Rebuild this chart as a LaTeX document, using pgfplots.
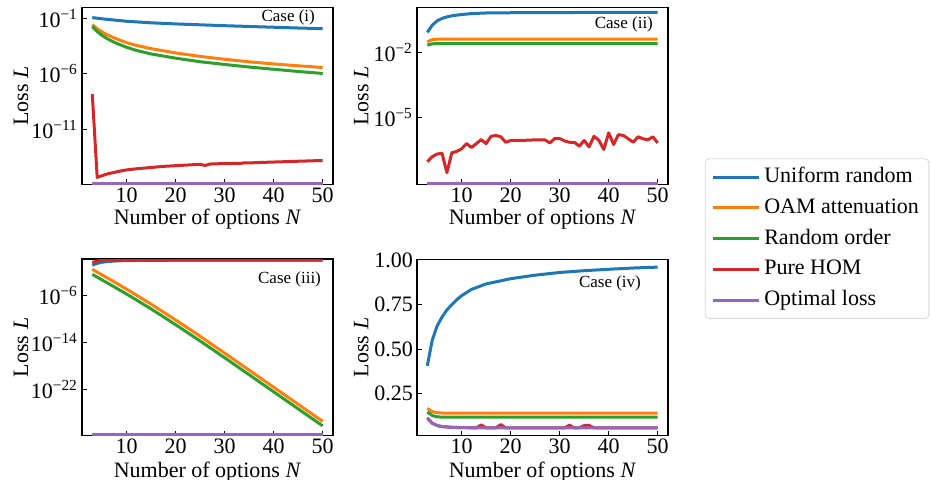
\documentclass[border=0pt]{standalone}
\usepackage{fontspec}
\setmainfont{Liberation Serif}
\usepackage{pgfplots}
\pgfplotsset{compat=1.18}

\definecolor{cblue}{HTML}{1F77B4}
\definecolor{corange}{HTML}{FF7F0E}
\definecolor{cgreen}{HTML}{2CA02C}
\definecolor{cred}{HTML}{D62728}
\definecolor{cpurple}{HTML}{9467BD}

\newcommand{\lbl}{\fontsize{11}{13}\selectfont}
\newcommand{\case}{\fontsize{8.5}{10}\selectfont}

\pgfplotsset{
  panel/.style={
    scale only axis, width=125.5pt, height=88.3pt,
    anchor=south west,
    xmin=0.9, xmax=52.1, xtick={10,20,30,40,50},
    tick align=inside, tick pos=left,
    major tick length=2.5pt,
    yminorticks=false, xminorticks=false,
    tick style={line width=0.5pt, black},
    axis line style={line width=0.6pt},
    tick label style={font=\lbl},
    label style={font=\lbl, inner sep=1pt},
    xlabel={Number of options \textit{N}},
    ylabel={Loss \textit{L}},
    xticklabel style={yshift=-0.5pt, inner ysep=1pt},
    yticklabel style={xshift=1.5pt},
    /pgf/number format/assume math mode=true,
    every axis plot/.append style={line width=1.5pt, line join=round, mark=none},
  },
  toprow/.style={xlabel style={at={(axis description cs:0.5,-0.197)}, anchor=center}},
  botrow/.style={xlabel style={at={(axis description cs:0.5,-0.208)}, anchor=center}},
  leftcol/.style={ylabel style={at={(axis description cs:-0.243,0.5)}, anchor=center}},
  rightcol/.style={ylabel style={at={(axis description cs:-0.222,0.5)}, anchor=center}},
}

\begin{document}
\begin{tikzpicture}
\path[use as bounding box] (0,0) rectangle (465pt,240pt);

% ---- Case (i)
\begin{axis}[panel, toprow, leftcol, at={(41pt,147.85pt)},
  ymode=log, ymin=1.05e-16, ymax=0.9,
  ytick={1e-1,1e-6,1e-11},
  yticklabels={10\textsuperscript{−1},10\textsuperscript{−6},10\textsuperscript{−11}}]
\addplot[cblue] coordinates {(3,1.15e-1) (5,8.91e-2) (7,7.24e-2) (10,5.37e-2) (15,3.89e-2) (20,3.09e-2) (25,2.57e-2) (30,2.14e-2) (35,1.82e-2) (40,1.55e-2) (45,1.32e-2) (50,1.15e-2)};
\addplot[corange] coordinates {(3,2.63e-2) (4,1.12e-2) (5,5.75e-3) (6,3.31e-3) (7,2.09e-3) (8,1.35e-3) (10,6.31e-4) (12,3.55e-4) (15,1.82e-4) (20,7.41e-5) (25,3.63e-5) (30,2.0e-5) (35,1.17e-5) (40,7.59e-6) (45,5.13e-6) (50,3.63e-6)};
\addplot[cgreen] coordinates {(3,1.78e-2) (4,6.31e-3) (5,2.82e-3) (6,1.48e-3) (7,8.71e-4) (8,5.37e-4) (10,2.40e-4) (12,1.26e-4) (15,6.03e-5) (20,2.51e-5) (25,1.20e-5) (30,6.76e-6) (35,3.98e-6) (40,2.51e-6) (45,1.58e-6) (50,1.05e-6)};
\addplot[cred] coordinates {(3,1.41e-8) (4,4.37e-16) (5,6.31e-16) (6,8.91e-16) (7,1.12e-15) (8,1.41e-15) (9,1.74e-15) (10,2.09e-15) (12,2.63e-15) (14,3.16e-15) (16,3.80e-15) (18,4.47e-15) (20,5.01e-15) (22,5.62e-15) (24,6.31e-15) (25,6.61e-15) (26,5.25e-15) (27,7.08e-15) (28,7.24e-15) (30,7.94e-15) (31,7.59e-15) (32,8.32e-15) (33,7.76e-15) (34,9.12e-15) (35,8.91e-15) (38,1.0e-14) (40,1.07e-14) (45,1.26e-14) (50,1.48e-14)};
\addplot[cpurple] coordinates {(3,1.26e-16) (50,1.26e-16)};
\node[anchor=east, font=\case] at (rel axis cs:0.956,0.943) {Case (i)};
\end{axis}

% ---- Case (ii)
\begin{axis}[panel, toprow, rightcol, at={(208.5pt,147.85pt)},
  ymode=log, ymin=9.3e-9, ymax=1.1,
  ytick={1e-2,1e-5},
  yticklabels={10\textsuperscript{−2},10\textsuperscript{−5}},
  legend style={at={(1.147,0.147)}, anchor=north west, draw=black!15,
    rounded corners=2pt, font=\lbl, inner xsep=3pt, inner ysep=2pt,
    row sep=0.85pt,
    nodes={inner sep=2pt, text height=8pt, text depth=2.5pt},
    /tikz/every even column/.append style={column sep=11pt}},
  legend cell align=left,
  legend image code/.code={\draw[#1, line width=1.5pt] (0pt,0pt) -- (23pt,0pt);}]
\addplot[cblue] coordinates {(3,8.13e-2) (4,1.74e-1) (5,2.75e-1) (6,3.55e-1) (7,4.17e-1) (8,4.68e-1) (10,5.37e-1) (12,5.89e-1) (15,6.31e-1) (20,6.46e-1) (30,6.61e-1) (40,6.68e-1) (50,6.76e-1)};
\addlegendentry{Uniform random}
\addplot[corange] coordinates {(3,3.02e-2) (4,3.80e-2) (5,3.98e-2) (50,3.98e-2)};
\addlegendentry{OAM attenuation}
\addplot[cgreen] coordinates {(3,2.14e-2) (4,2.45e-2) (5,2.51e-2) (50,2.51e-2)};
\addlegendentry{Random order}
\addplot[cred] coordinates {(3,1.0e-7) (4,1.70e-7) (5,2.24e-7) (6,2.45e-7) (7,3.16e-8) (8,2.57e-7) (9,2.95e-7) (10,3.89e-7) (11,6.76e-7) (12,4.47e-7) (13,6.76e-7) (14,1.02e-6) (15,6.76e-7) (16,1.45e-6) (17,1.58e-6) (18,1.38e-6) (19,7.76e-7) (20,9.33e-7) (21,9.55e-7) (22,9.55e-7) (23,9.55e-7) (24,9.77e-7) (25,1.0e-6) (26,1.0e-6) (27,1.0e-6) (28,7.24e-7) (29,1.15e-6) (30,1.15e-6) (31,8.91e-7) (32,7.76e-7) (33,7.76e-7) (34,5.13e-7) (35,9.33e-7) (36,4.79e-7) (37,1.45e-6) (38,9.55e-7) (39,3.63e-7) (40,2.09e-6) (41,6.17e-7) (42,1.74e-6) (43,1.58e-6) (44,1.12e-6) (45,7.76e-7) (46,1.38e-6) (47,1.12e-6) (48,1.0e-6) (49,1.38e-6) (50,7.24e-7)};
\addlegendentry{Pure HOM}
\addplot[cpurple] coordinates {(3,1.0e-8) (50,1.0e-8)};
\addlegendentry{Optimal loss}
\node[anchor=east, font=\case] at (rel axis cs:0.968,0.907) {Case (ii)};
\end{axis}

% ---- Case (iii)
\begin{axis}[panel, botrow, leftcol, at={(41pt,22.15pt)},
  ymode=log, ymin=1.32e-30, ymax=1.29,
  ytick={1e-6,1e-14,1e-22},
  yticklabels={10\textsuperscript{−6},10\textsuperscript{−14},10\textsuperscript{−22}}]
\addplot[cblue] coordinates {(3,0.120) (4,0.251) (5,0.380) (6,0.479) (7,0.562) (8,0.631) (10,0.724) (15,0.794) (20,0.832) (50,0.851)};
\addplot[corange] coordinates {(3,2.29e-2) (4,7.76e-3) (5,2.63e-3) (6,8.91e-4) (7,2.95e-4) (8,9.55e-5) (10,1.0e-5) (12,9.77e-7) (15,2.82e-8) (17,2.45e-9) (20,5.89e-11) (22,4.68e-12) (25,1.0e-13) (27,7.24e-15) (30,1.41e-16) (35,1.78e-19) (40,2.24e-22) (45,2.82e-25) (50,3.55e-28)};
\addplot[cgreen] coordinates {(3,3.24e-3) (4,1.10e-3) (5,3.72e-4) (6,1.26e-4) (7,4.17e-5) (8,1.38e-5) (10,1.51e-6) (12,1.48e-7) (15,4.37e-9) (17,3.80e-10) (20,9.33e-12) (22,7.41e-13) (25,1.58e-14) (27,1.17e-15) (30,2.29e-17) (35,2.95e-20) (40,3.72e-23) (45,4.68e-26) (50,6.03e-29)};
\addplot[cred] coordinates {(3,0.347) (4,0.631) (5,0.794) (6,0.851) (50,0.851)};
\addplot[cpurple] coordinates {(3,2.24e-30) (50,2.24e-30)};
\node[anchor=east, font=\case] at (rel axis cs:0.98,0.887) {Case (iii)};
\end{axis}

% ---- Case (iv)
\begin{axis}[panel, botrow, rightcol, at={(208.5pt,22.15pt)},
  ymin=0.015, ymax=1.005,
  ytick={0.25,0.5,0.75,1},
  yticklabel style={/pgf/number format/.cd, fixed, fixed zerofill, precision=2}]
\addplot[cblue] coordinates {(3,0.407) (4,0.55) (5,0.63) (6,0.68) (7,0.72) (8,0.75) (9,0.777) (10,0.80) (12,0.835) (15,0.866) (20,0.895) (25,0.915) (30,0.93) (35,0.94) (40,0.948) (45,0.955) (50,0.96)};
\addplot[corange] coordinates {(3,0.168) (4,0.150) (5,0.144) (6,0.142) (50,0.142)};
\addplot[cgreen] coordinates {(3,0.148) (4,0.128) (5,0.121) (6,0.119) (50,0.119)};
\addplot[cred] coordinates {(3,0.115) (4,0.085) (5,0.072) (6,0.066) (8,0.062) (10,0.060) (13,0.059) (14,0.075) (15,0.059) (17,0.059) (18,0.077) (19,0.059) (31,0.059) (32,0.074) (33,0.059) (34,0.059) (35,0.072) (36,0.073) (37,0.059) (50,0.059)};
\addplot[cpurple] coordinates {(3,0.115) (4,0.085) (5,0.072) (6,0.066) (8,0.062) (10,0.060) (15,0.059) (50,0.059)};
\node[anchor=east, font=\case] at (rel axis cs:0.92,0.864) {Case (iv)};
\end{axis}
\end{tikzpicture}
\end{document}
